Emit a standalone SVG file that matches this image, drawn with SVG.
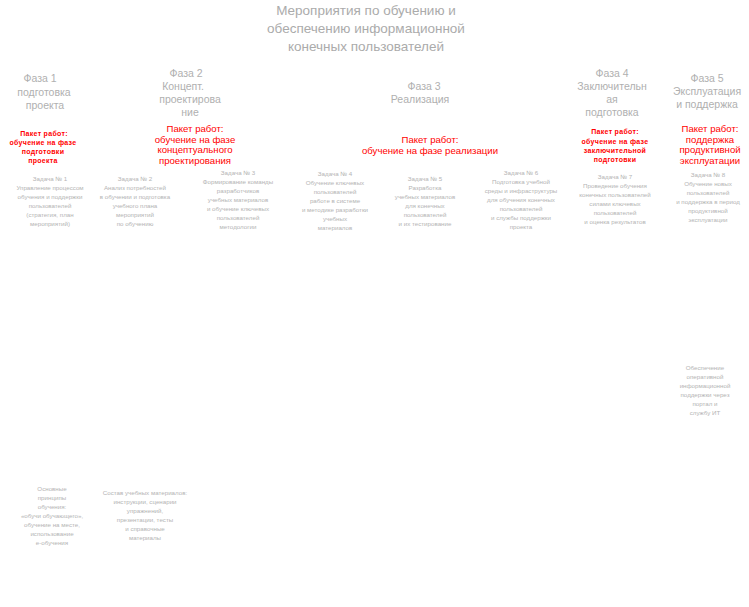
<svg xmlns="http://www.w3.org/2000/svg" width="749" height="607" viewBox="0 0 749 607">
  <style>
    text { font-family: "Liberation Sans", Arial, sans-serif; text-anchor: middle; }
    .title { font-size: 13.5px; fill: #ababab; }
    .phase { font-size: 10.5px; fill: #b0b0b0; }
    .pkg { font-size: 9.6px; fill: #ff0000; }
    .pkg-s { font-size: 7px; font-weight: bold; fill: #ff0000; letter-spacing: 0.3px; }
    .task { font-size: 6.2px; fill: #b4b4b4; }
    .note { font-size: 6.2px; fill: #b4b4b4; }
  </style>
  <rect width="749" height="607" fill="#ffffff"/>

  <!-- heading -->
  <g id="title" class="title">
    <text x="366" y="15">Мероприятия по обучению и</text>
    <text x="366" y="33">обеспечению информационной</text>
    <text x="366" y="51">конечных пользователей</text>
  </g>

  <!-- phase 1 -->
  <g id="phase1">
    <g class="phase">
      <text x="40" y="82">Фаза 1</text>
      <text x="44" y="96">подготовка</text>
      <text x="45" y="109">проекта</text>
    </g>
    <g class="pkg-s">
      <text x="44" y="136">Пакет работ:</text>
      <text x="43" y="145">обучение на фазе</text>
      <text x="43" y="154">подготовки</text>
      <text x="43" y="163">проекта</text>
    </g>
    <g class="task">
      <text x="50" y="181">Задача № 1</text>
      <text x="50" y="190">Управление процессом</text>
      <text x="50" y="199">обучения и поддержки</text>
      <text x="50" y="208">пользователей</text>
      <text x="50" y="217">(стратегия, план</text>
      <text x="50" y="226">мероприятий)</text>
    </g>
  </g>

  <!-- phase 2 -->
  <g id="phase2">
    <g class="phase">
      <text x="186" y="77">Фаза 2</text>
      <text x="183" y="90">Концепт.</text>
      <text x="190" y="103">проектирова</text>
      <text x="190" y="116">ние</text>
    </g>
    <g class="pkg">
      <text x="195" y="132">Пакет работ:</text>
      <text x="195" y="143">обучение на фазе</text>
      <text x="195" y="153">концептуального</text>
      <text x="195" y="164">проектирования</text>
    </g>
    <g class="task">
      <text x="135" y="181">Задача № 2</text>
      <text x="135" y="190">Анализ потребностей</text>
      <text x="135" y="199">в обучении и подготовка</text>
      <text x="135" y="208">учебного плана</text>
      <text x="135" y="217">мероприятий</text>
      <text x="135" y="226">по обучению</text>
    </g>
    <g class="task">
      <text x="238" y="175">Задача № 3</text>
      <text x="238" y="184">Формирование команды</text>
      <text x="238" y="193">разработчиков</text>
      <text x="238" y="202">учебных материалов</text>
      <text x="238" y="211">и обучение ключевых</text>
      <text x="238" y="220">пользователей</text>
      <text x="238" y="229">методологии</text>
    </g>
  </g>

  <!-- phase 3 -->
  <g id="phase3">
    <g class="phase">
      <text x="424" y="90">Фаза 3</text>
      <text x="420" y="103">Реализация</text>
    </g>
    <g class="pkg">
      <text x="430" y="143">Пакет работ:</text>
      <text x="430" y="154">обучение на фазе реализации</text>
    </g>
    <g class="task">
      <text x="335" y="176">Задача № 4</text>
      <text x="335" y="185">Обучение ключевых</text>
      <text x="335" y="194">пользователей</text>
      <text x="335" y="203">работе в системе</text>
      <text x="335" y="212">и методике разработки</text>
      <text x="335" y="221">учебных</text>
      <text x="335" y="230">материалов</text>
    </g>
    <g class="task">
      <text x="425" y="181">Задача № 5</text>
      <text x="425" y="190">Разработка</text>
      <text x="425" y="199">учебных материалов</text>
      <text x="425" y="208">для конечных</text>
      <text x="425" y="217">пользователей</text>
      <text x="425" y="226">и их тестирование</text>
    </g>
    <g class="task">
      <text x="521" y="175">Задача № 6</text>
      <text x="521" y="184">Подготовка учебной</text>
      <text x="521" y="193">среды и инфраструктуры</text>
      <text x="521" y="202">для обучения конечных</text>
      <text x="521" y="211">пользователей</text>
      <text x="521" y="220">и службы поддержки</text>
      <text x="521" y="229">проекта</text>
    </g>
  </g>

  <!-- phase 4 -->
  <g id="phase4">
    <g class="phase">
      <text x="612" y="77">Фаза 4</text>
      <text x="612" y="90">Заключительн</text>
      <text x="612" y="103">ая</text>
      <text x="612" y="116">подготовка</text>
    </g>
    <g class="pkg-s">
      <text x="615" y="134">Пакет работ:</text>
      <text x="615" y="144">обучение на фазе</text>
      <text x="615" y="153">заключительной</text>
      <text x="615" y="162">подготовки</text>
    </g>
    <g class="task">
      <text x="615" y="179">Задача № 7</text>
      <text x="615" y="188">Проведение обучения</text>
      <text x="615" y="197">конечных пользователей</text>
      <text x="615" y="206">силами ключевых</text>
      <text x="615" y="215">пользователей</text>
      <text x="615" y="224">и оценка результатов</text>
    </g>
  </g>

  <!-- phase 5 -->
  <g id="phase5">
    <g class="phase">
      <text x="707" y="82">Фаза 5</text>
      <text x="707" y="95">Эксплуатация</text>
      <text x="707" y="108">и поддержка</text>
    </g>
    <g class="pkg">
      <text x="710" y="132">Пакет работ:</text>
      <text x="710" y="143">поддержка</text>
      <text x="710" y="153">продуктивной</text>
      <text x="710" y="164">эксплуатации</text>
    </g>
    <g class="task">
      <text x="708" y="177">Задача № 8</text>
      <text x="708" y="186">Обучение новых</text>
      <text x="708" y="195">пользователей</text>
      <text x="708" y="204">и поддержка в период</text>
      <text x="708" y="213">продуктивной</text>
      <text x="708" y="222">эксплуатации</text>
    </g>
    <g id="note-support" class="note">
      <text x="705" y="370">Обеспечение</text>
      <text x="705" y="379">оперативной</text>
      <text x="705" y="388">информационной</text>
      <text x="705" y="397">поддержки через</text>
      <text x="705" y="406">портал и</text>
      <text x="705" y="415">службу ИТ</text>
    </g>
  </g>

  <!-- notes at the bottom -->
  <g id="note-method" class="note">
    <text x="52" y="491">Основные</text>
    <text x="52" y="500">принципы</text>
    <text x="52" y="509">обучения:</text>
    <text x="52" y="518">«обучи обучающего»,</text>
    <text x="52" y="527">обучение на месте,</text>
    <text x="52" y="536">использование</text>
    <text x="52" y="545">е-обучения</text>
  </g>
  <g id="note-materials" class="note">
    <text x="145" y="495">Состав учебных материалов:</text>
    <text x="145" y="504">инструкции, сценарии</text>
    <text x="145" y="513">упражнений,</text>
    <text x="145" y="522">презентации, тесты</text>
    <text x="145" y="531">и справочные</text>
    <text x="145" y="540">материалы</text>
  </g>
</svg>
